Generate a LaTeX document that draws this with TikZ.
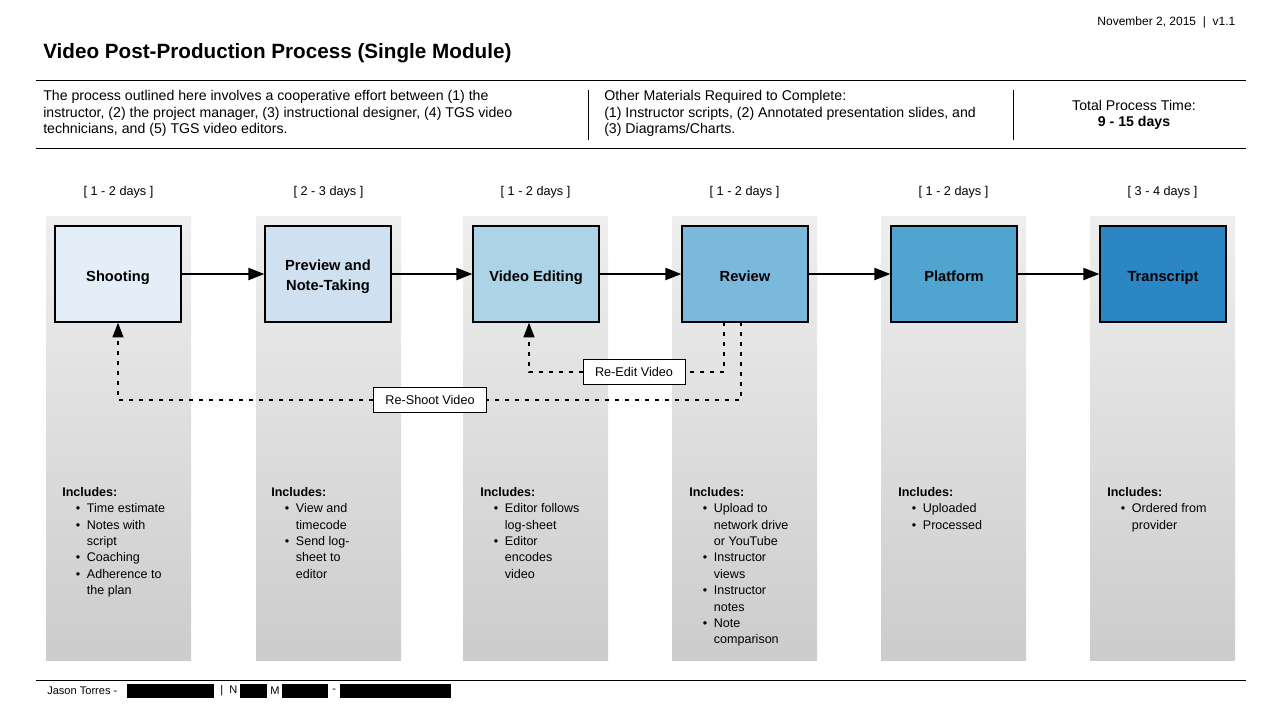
\documentclass[tikz,border=0pt]{standalone}
\usepackage{fontspec}
\setmainfont{Liberation Sans}
\usetikzlibrary{arrows.meta,positioning,calc}
\definecolor{cShoot}{HTML}{E3EEF8}
\definecolor{cPrev}{HTML}{CFE1F0}
\definecolor{cEdit}{HTML}{ACD3E6}
\definecolor{cRev}{HTML}{7AB8DC}
\definecolor{cPlat}{HTML}{4FA4D0}
\definecolor{cTrans}{HTML}{2B86C3}
\tikzset{
  stage/.style={draw,line width=0.9pt,minimum width=94.5pt,minimum height=72pt,align=center,text height=11pt,text depth=0pt,font=\bfseries\fontsize{11}{15}\selectfont},
  lane/.style={top color=gray!13,bottom color=gray!40,draw=none},
  days/.style={font=\fontsize{9.5}{11}\selectfont},
  flow/.style={-{Triangle[length=12pt,width=9pt]},line width=1.5pt},
  back/.style={-{Triangle[length=11pt,width=8pt]},line width=1.5pt,dash pattern=on 3pt off 4.5pt},
  tag/.style={draw,fill=white,font=\fontsize{9.5}{11}\selectfont,inner xsep=9pt,inner ysep=6pt},
  incl/.style={anchor=north west,align=left,font=\fontsize{9.4}{12.3}\selectfont,inner sep=0pt},
}
\newcommand{\itm}[1]{\hspace*{18.5pt}\llap{\textbullet\hspace{5pt}}#1}
\newcommand{\cnt}[1]{\hspace*{18.5pt}#1}
\begin{document}
\begin{tikzpicture}[x=0.75pt,y=-0.75pt]
\useasboundingbox (0,0) rectangle (1280,722);
% header
\node[anchor=east,font=\fontsize{9}{11}\selectfont] (date) at (1240,22) {November 2, 2015~~|~~v1.1};
\node[anchor=west,font=\bfseries\fontsize{15.5}{18}\selectfont,inner sep=0pt] (title) at (43,53) {Video Post-Production Process (Single Module)};
\draw (36,80) -- (1246,80);
\draw (36,148) -- (1246,148);
\draw (588,90) -- (588,140);
\draw (1013,90) -- (1013,140);
\node[anchor=north west,align=left,inner sep=0pt,font=\fontsize{10.6}{12.5}\selectfont] (intro) at (43,90)
  {The process outlined here involves a cooperative effort between (1) the\\instructor, (2) the project manager, (3) instructional designer, (4) TGS video\\technicians, and (5) TGS video editors.};
\node[anchor=north west,align=left,inner sep=0pt,font=\fontsize{10.6}{12.5}\selectfont] (mats) at (604,90)
  {Other Materials Required to Complete:\\(1) Instructor scripts, (2) Annotated presentation slides, and\\(3) Diagrams/Charts.};
\node[align=center,font=\fontsize{10.6}{12.5}\selectfont] (total) at (1134,115) {Total Process Time:\\\textbf{9 - 15 days}};
% lanes
\foreach \x/\d in {46/{[ 1 - 2 days ]},256/{[ 2 - 3 days ]},463/{[ 1 - 2 days ]},672/{[ 1 - 2 days ]},881/{[ 1 - 2 days ]},1090/{[ 3 - 4 days ]}}{
  \fill[lane] (\x,216) rectangle ++(145,444);
  \node[days] at (\x+72.5,192) {\d};
}
% stages
\node[stage,fill=cShoot] (shoot) at (118,274) {Shooting};
\node[stage,fill=cPrev,text height=24.5pt] (prev) at (328,274) {Preview and\\Note-Taking};
\node[stage,fill=cEdit] (edit) at (536,274) {Video Editing};
\node[stage,fill=cRev] (rev) at (745,274) {Review};
\node[stage,fill=cPlat] (plat) at (954,274) {Platform};
\node[stage,fill=cTrans] (trans) at (1163,274) {Transcript};
\draw[flow] (shoot) -- (prev);
\draw[flow] (prev) -- (edit);
\draw[flow] (edit) -- (rev);
\draw[flow] (rev) -- (plat);
\draw[flow] (plat) -- (trans);
% loops back
\node[tag] (reedit) at (634,372) {Re-Edit Video};
\node[tag] (reshoot) at (430,400) {Re-Shoot Video};
\coordinate (edTop) at (724,322);
\coordinate (shTop) at (741,322);
\draw[back] (edTop) |- (reedit.east) (reedit.west) -| (edit.south -| 529,0);
\draw[back] (shTop) |- (reshoot.east) (reshoot.west) -| (shoot.south);
% includes
\node[incl] (i1) at (62,487) {\textbf{Includes:}\\\itm{Time estimate}\\\itm{Notes with}\\\cnt{script}\\\itm{Coaching}\\\itm{Adherence to}\\\cnt{the plan}};
\node[incl] (i2) at (271,487) {\textbf{Includes:}\\\itm{View and}\\\cnt{timecode}\\\itm{Send log-}\\\cnt{sheet to}\\\cnt{editor}};
\node[incl] (i3) at (480,487) {\textbf{Includes:}\\\itm{Editor follows}\\\cnt{log-sheet}\\\itm{Editor}\\\cnt{encodes}\\\cnt{video}};
\node[incl] (i4) at (689,487) {\textbf{Includes:}\\\itm{Upload to}\\\cnt{network drive}\\\cnt{or YouTube}\\\itm{Instructor}\\\cnt{views}\\\itm{Instructor}\\\cnt{notes}\\\itm{Note}\\\cnt{comparison}};
\node[incl] (i5) at (898,487) {\textbf{Includes:}\\\itm{Uploaded}\\\itm{Processed}};
\node[incl] (i6) at (1107,487) {\textbf{Includes:}\\\itm{Ordered from}\\\cnt{provider}};
% footer
\draw (36,680) -- (1246,680);
\node[anchor=west,inner sep=0pt,font=\fontsize{8.3}{10}\selectfont] (foot) at (47,691) {Jason Torres -};
\fill (127,684) rectangle (214,698);
\node[anchor=west,inner sep=0pt,font=\fontsize{8.3}{10}\selectfont] (sep) at (220,691) {|~~N};
\fill (240,684) rectangle (267,698);
\node[anchor=west,inner sep=0pt,font=\fontsize{8.3}{10}\selectfont] (m) at (270,691) {M};
\fill (282,684) rectangle (328,698);
\node[anchor=west,inner sep=0pt,font=\fontsize{8.3}{10}\selectfont] (dash) at (332,691) {-};
\fill (340,684) rectangle (451,698);
\end{tikzpicture}
\end{document}
